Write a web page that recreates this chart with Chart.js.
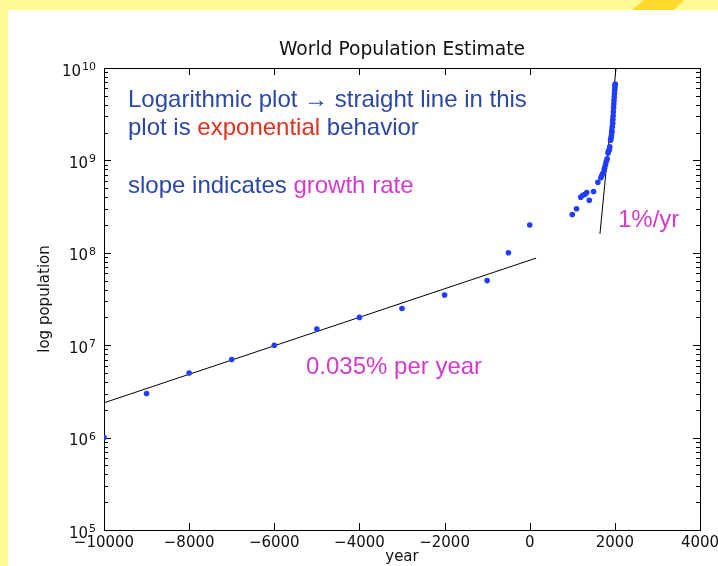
<!DOCTYPE html>
<html>
<head>
<meta charset="utf-8">
<script src="https://cdn.jsdelivr.net/npm/chart.js@4.4.1/dist/chart.umd.min.js"></script>
<style>
  html, body { margin: 0; padding: 0; }
  body { width: 718px; height: 566px; background: #fffa92; position: relative; overflow: hidden; }
  #hoja { position: absolute; left: 8px; top: 10px; right: 0; bottom: 0; background: #ffffff; }
  #trazo { position: absolute; left: 630px; top: 0; width: 54px; height: 10px; background: #ffd92e;
           clip-path: polygon(2px 10px, 14px 0, 54px 0, 44px 10px); }
  #grafico { position: absolute; left: 0; top: 0; }
</style>
</head>
<body>
<div id="hoja"></div>
<div id="trazo"></div>
<canvas id="grafico" width="718" height="566"></canvas>
<script>
// Datos (poblacion mundial estimada)
const anosAntiguos = [-10000, -9000, -8000, -7000, -6000, -5000, -4000, -3000, -2000, -1000, -500, 0];
const poblacionAntigua = [1e6, 3e6, 5e6, 7e6, 1e7, 1.5e7, 2e7, 2.5e7, 3.5e7, 5e7, 1e8, 2e8];

const anosModernos = [1000, 1100, 1200, 1250, 1300, 1340, 1400, 1500, 1600, 1670, 1690, 1715,
    1750, 1760, 1780, 1800, 1820, 1840, 1850, 1870, 1880, 1900, 1910, 1920, 1927, 1930, 1940,
    1950, 1955, 1960, 1965, 1970, 1975, 1980, 1985, 1990, 1995, 2000, 2005, 2008];
const poblacionModerna = [2.6e8, 3.0e8, 4.0e8, 4.2e8, 4.3e8, 4.5e8, 3.7e8, 4.6e8, 5.8e8, 6.5e8, 6.8e8, 7.2e8,
    7.9e8, 8.3e8, 9.0e8, 9.8e8, 1.04e9, 1.2e9, 1.26e9, 1.3e9, 1.4e9, 1.65e9, 1.75e9, 1.86e9, 2.0e9, 2.07e9, 2.3e9,
    2.52e9, 2.77e9, 3.02e9, 3.34e9, 3.7e9, 4.07e9, 4.44e9, 4.85e9, 5.29e9, 5.7e9, 6.09e9, 6.47e9, 6.7e9];

// Rectas de ajuste (0.035% por año y 1%/año)
const ajusteLentoAnos = [-10000, 150];
const ajusteLentoPob = [2.38e6, 8.76e7];
const ajusteRapidoAnos = [1650, 2030];
const ajusteRapidoPob = [1.6e8, 1.03e10];

// Marcas de los ejes
const marcasX = [-10000, -8000, -6000, -4000, -2000, 0, 2000, 4000];
const exponentesY = [5, 6, 7, 8, 9, 10];

const AZUL = '#2d47a5';
const ROJO = '#e0301e';
const MAGENTA = '#d43bcc';
const PUNTO = '#1f3cff';

function puntos(xs, ys) {
    return xs.map(function (x, i) { return { x: x, y: ys[i] }; });
}

// Marcas hacia dentro, marco y etiquetas del eje y con exponente
// (se dibujan antes que los puntos, que quedan encima del marco)
const marcoPlugin = {
    id: 'marco',
    beforeDatasetsDraw(chart) {
        const ctx = chart.ctx;
        const a = chart.chartArea;
        const x = chart.scales.x;
        const y = chart.scales.y;
        ctx.save();
        ctx.strokeStyle = '#000';
        ctx.lineWidth = 1;
        ctx.beginPath();
        marcasX.forEach(function (v) {
            const px = Math.round(x.getPixelForValue(v)) + 0.5;
            ctx.moveTo(px, a.bottom); ctx.lineTo(px, a.bottom - 7);
            ctx.moveTo(px, a.top); ctx.lineTo(px, a.top + 7);
        });
        exponentesY.forEach(function (e) {
            const py = Math.round(y.getPixelForValue(Math.pow(10, e))) + 0.5;
            ctx.moveTo(a.left, py); ctx.lineTo(a.left + 7, py);
            ctx.moveTo(a.right, py); ctx.lineTo(a.right - 7, py);
            if (e < 10) {
                for (let m = 2; m <= 9; m++) {
                    const pm = Math.round(y.getPixelForValue(m * Math.pow(10, e))) + 0.5;
                    ctx.moveTo(a.left, pm); ctx.lineTo(a.left + 4, pm);
                    ctx.moveTo(a.right, pm); ctx.lineTo(a.right - 4, pm);
                }
            }
        });
        ctx.stroke();
        ctx.strokeRect(Math.round(a.left) + 0.5, Math.round(a.top) + 0.5,
            Math.round(a.right - a.left), Math.round(a.bottom - a.top));

        // etiquetas 10^n
        ctx.fillStyle = '#111';
        ctx.textBaseline = 'alphabetic';
        exponentesY.forEach(function (e) {
            const py = y.getPixelForValue(Math.pow(10, e));
            ctx.font = '11px "DejaVu Sans"';
            const sup = String(e);
            const wSup = ctx.measureText(sup).width;
            ctx.font = '15px "DejaVu Sans"';
            const wBase = ctx.measureText('10').width;
            const derecha = a.left - 8;
            ctx.textAlign = 'left';
            ctx.fillText('10', derecha - wSup - wBase - 1, py + 7.5);
            ctx.font = '11px "DejaVu Sans"';
            ctx.fillText(sup, derecha - wSup, py + 2);
        });
        ctx.restore();
    },
    afterDraw(chart) {
        const ctx = chart.ctx;
        const a = chart.chartArea;
        ctx.save();
        ctx.font = '24px "Liberation Sans"';
        ctx.textBaseline = 'alphabetic';
        ctx.textAlign = 'left';
        function linea(partes, x0, y0) {
            let xx = x0;
            partes.forEach(function (p) {
                ctx.fillStyle = p[1];
                ctx.fillText(p[0], xx, y0);
                xx += ctx.measureText(p[0]).width;
            });
        }
        linea([['Logarithmic plot \u2192 straight line in this', AZUL]], a.left + 24, a.top + 39);
        linea([['plot is ', AZUL], ['exponential', ROJO], [' behavior', AZUL]], a.left + 24, a.top + 67);
        linea([['slope indicates ', AZUL], ['growth rate', MAGENTA]], a.left + 24, a.top + 125);
        linea([['1%/yr', MAGENTA]], a.left + 514, a.top + 159);
        linea([['0.035% per year', MAGENTA]], a.left + 202, a.top + 306);
        ctx.restore();
    }
};

const ctx = document.getElementById('grafico').getContext('2d');
const grafico = new Chart(ctx, {
    type: 'scatter',
    data: {
        datasets: [
            {
                label: 'antigua',
                data: puntos(anosAntiguos, poblacionAntigua),
                backgroundColor: PUNTO,
                borderWidth: 0,
                pointRadius: 2.8,
                clip: { left: 0, top: 10, right: 10, bottom: 10 },
                xAxisID: 'x'
            },
            {
                label: 'moderna',
                data: puntos(anosModernos, poblacionModerna),
                backgroundColor: PUNTO,
                borderWidth: 0,
                pointRadius: 2.8,
                xAxisID: 'x'
            },
            {
                label: 'ajuste lento',
                data: puntos(ajusteLentoAnos, ajusteLentoPob),
                showLine: true,
                borderColor: '#000',
                borderWidth: 1,
                pointRadius: 0,
                xAxisID: 'x'
            },
            {
                label: 'ajuste rapido',
                data: puntos(ajusteRapidoAnos, ajusteRapidoPob),
                showLine: true,
                borderColor: '#000',
                borderWidth: 1,
                pointRadius: 0,
                xAxisID: 'x'
            }
        ]
    },
    options: {
        responsive: false,
        animation: false,
        devicePixelRatio: 1,
        layout: { padding: { left: 0, right: 18, top: 0, bottom: 0 } },
        plugins: {
            legend: { display: false },
            tooltip: { enabled: false },
            title: { display: false }
        },
        scales: {
            x: {
                type: 'linear',
                position: 'bottom',
                min: -10000,
                max: 4000,
                grid: { display: false, drawTicks: false },
                border: { display: false },
                ticks: {
                    stepSize: 2000,
                    color: '#111',
                    padding: 4,
                    maxRotation: 0,
                    font: { family: 'DejaVu Sans', size: 15 },
                    callback: function (v) { return v < 0 ? '\u2212' + Math.abs(v) : String(v); }
                },
                title: {
                    display: true,
                    text: 'year',
                    color: '#111',
                    font: { family: 'DejaVu Sans', size: 15 },
                    padding: { top: 0, bottom: 0 }
                },
                afterFit: function (s) { s.height = 36; s.paddingLeft = 0; s.paddingRight = 0; }
            },
            // eje superior solo para centrar el titulo sobre el area del grafico
            arriba: {
                type: 'linear',
                axis: 'x',
                position: 'top',
                min: -10000,
                max: 4000,
                grid: { display: false, drawTicks: false },
                border: { display: false },
                ticks: { display: false },
                title: {
                    display: true,
                    text: 'World Population Estimate',
                    color: '#111',
                    font: { family: 'DejaVu Sans', size: 18.7 },
                    padding: { top: 39, bottom: 0 }
                },
                afterFit: function (s) { s.height = 68; s.paddingLeft = 0; s.paddingRight = 0; }
            },
            y: {
                type: 'logarithmic',
                min: 1e5,
                max: 1e10,
                grid: { display: false, drawTicks: false },
                border: { display: false },
                ticks: { display: false },
                title: {
                    display: true,
                    text: 'log population',
                    color: '#111',
                    font: { family: 'DejaVu Sans', size: 15 },
                    padding: { top: 36, bottom: 0 }
                },
                afterFit: function (s) { s.width = 104; s.paddingTop = 0; s.paddingBottom = 0; }
            }
        }
    },
    plugins: [marcoPlugin]
});
</script>
</body>
</html>
